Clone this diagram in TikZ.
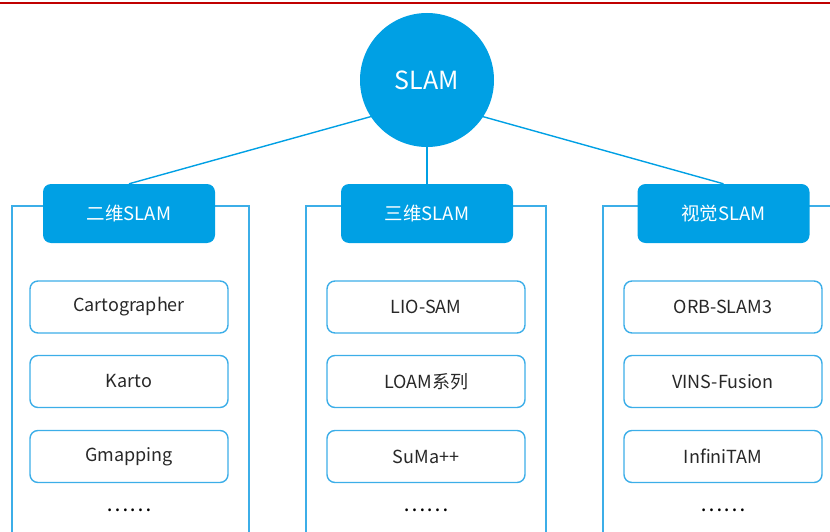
\documentclass[tikz,border=0pt]{standalone}
\usepackage{fontspec}
\setmainfont{Noto Sans CJK SC}
\definecolor{slamblue}{RGB}{0,160,228}
\definecolor{linecol}{RGB}{60,174,232}
\definecolor{textgray}{RGB}{40,40,40}
\definecolor{topred}{RGB}{192,0,0}
\begin{document}
\begin{tikzpicture}[x=1pt,y=-1pt,
  conn/.style={draw=slamblue, line width=1.4pt},
  frame/.style={draw=linecol, line width=1.5pt},
  headbox/.style={rectangle, rounded corners=8pt, fill=slamblue, text=white,
    minimum width=172pt, minimum height=59pt, inner sep=0pt,
    font=\fontsize{18.5}{20}\selectfont},
  itembox/.style={rectangle, rounded corners=8pt, draw=linecol, line width=1.4pt, fill=white,
    text=textgray, minimum width=198pt, minimum height=52pt, inner sep=0pt,
    font=\fontsize{18}{20}\selectfont},
  dotstext/.style={text=black, inner sep=0pt, font=\fontsize{21}{22}\selectfont}
]
\useasboundingbox (0,0) rectangle (830,532);
\draw[draw=topred, line width=2pt] (0,3) -- (830,3);
% frames
\draw[frame] (12,540) -- (12,206) -- (249,206) -- (249,540);
\draw[frame] (306,540) -- (306,206) -- (546,206) -- (546,540);
\draw[frame] (603,540) -- (603,206) -- (835,206);
% headers
\node[headbox] (h1) at (129,213.5) {二维SLAM};
\node[headbox] (h2) at (427,213.5) {三维SLAM};
\node[headbox] (h3) at (723.5,213.5) {视觉SLAM};
% connectors (drawn under the root circle)
\coordinate (hub) at (427,101);
\draw[conn] (hub) -- (h1.north);
\draw[conn] (hub) -- (h2.north);
\draw[conn] (hub) -- (h3.north);
% root
\node[circle, fill=slamblue, text=white, minimum size=134pt, inner sep=0pt,
  font=\fontsize{25}{26}\selectfont] (slam) at (427,80) {SLAM};
% items
\node[itembox] (a1) at (129,307) {Cartographer};
\node[itembox] (a2) at (129,381.5) {Karto};
\node[itembox] (a3) at (129,456.5) {Gmapping};
\node[dotstext] (a4) at (129,510) {……};
\node[itembox] (b1) at (426,307) {LIO-SAM};
\node[itembox] (b2) at (426,381.5) {LOAM系列};
\node[itembox] (b3) at (426,456.5) {SuMa++};
\node[dotstext] (b4) at (426,510) {……};
\node[itembox] (c1) at (723,307) {ORB-SLAM3};
\node[itembox] (c2) at (723,381.5) {VINS-Fusion};
\node[itembox] (c3) at (723,456.5) {InfiniTAM};
\node[dotstext] (c4) at (723,510) {……};
\end{tikzpicture}
\end{document}
